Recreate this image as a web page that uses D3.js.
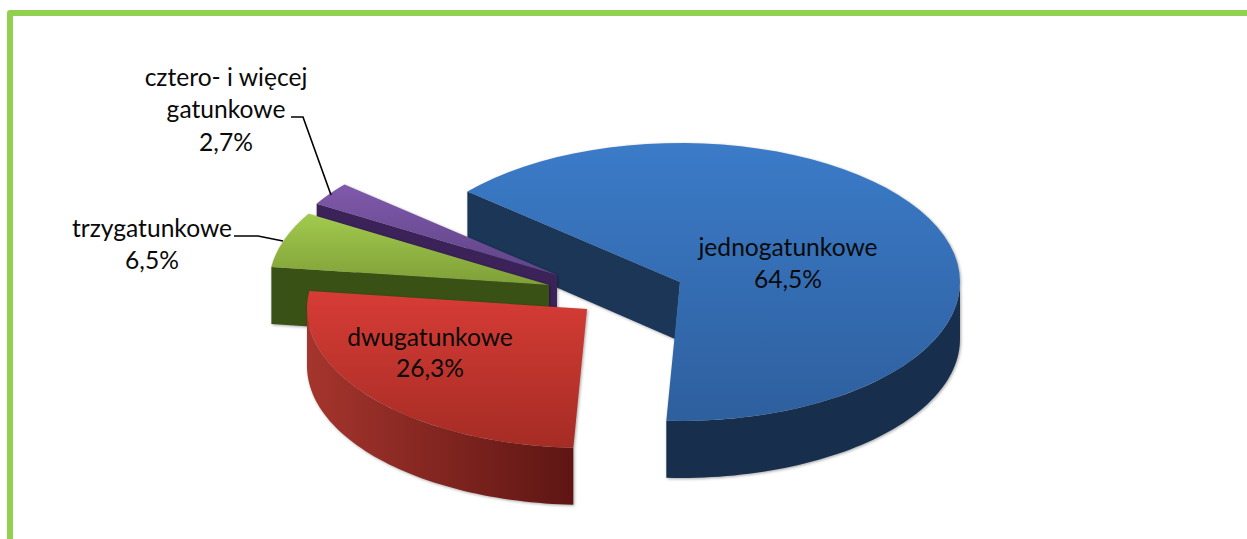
<!DOCTYPE html>
<html><head><meta charset="utf-8">
<script src="https://cdn.jsdelivr.net/npm/d3@7/dist/d3.min.js"></script>
<style>html,body{margin:0;padding:0;background:#fff;overflow:hidden}svg{display:block}text{font-family:Lato,"Open Sans",sans-serif;font-size:24.6px;fill:#0a0a0a;text-anchor:middle}</style>
</head><body><svg id="c" width="1247" height="539"></svg>
<script>
// data
const categories = ["jednogatunkowe","dwugatunkowe","trzygatunkowe","cztero- i więcej gatunkowe"];
const values = [64.5,26.3,6.5,2.7];
const valueLabels = ["64,5%","26,3%","6,5%","2,7%"];

// layout and styles (separate from data)
const W = 1247, H = 539;
const rx = 280, ry = 139, depth = 57;
const startDeg = -49.4;
const apexX = [680,587,549,557];
const apexY = [282,309,285,275];
const apexLean = [-5,0,0,0];
const drawOrder = [0,3,2,1];
const topColors = [["#3b7bc8","#2e5f9e"],["#d73c36","#a52c24"],["#a2ca4e","#7f9f38"],["#8059ab","#5f4487"]];
const wallColors = [["#1c3657","#172e4c"],["#a5352d","#5a1412"],["#3a5115","#33490f"],["#3b2259","#2d1a48"]];
const labelLines = [["jednogatunkowe","64,5%"],["dwugatunkowe","26,3%"],["trzygatunkowe","6,5%"],["cztero- i więcej","gatunkowe","2,7%"]];
const labelX = [788,430,152,226];
const labelY = [[256,288],[346,377],[237,269],[86,118,151]];
const leaders = [[[291,117],[303,117],[331,195]],[[234,236],[258,236],[283,241]]];

const svg = d3.select("#c");
const defs = svg.append("defs");
const pie = d3.pie().sort(null).value(d=>d)
  .startAngle(startDeg*Math.PI/180).endAngle(startDeg*Math.PI/180+2*Math.PI);
const arcs = pie(values);
const line = d3.line();
const sx = d3.scaleLinear().domain([-1,1]).range([-rx,rx]);
const sy = d3.scaleLinear().domain([-1,1]).range([-ry,ry]);

// outer border
svg.append("path").attr("d",`M10,${H+5}V13H${W+5}`).attr("fill","none")
  .attr("stroke","#92d050").attr("stroke-width",6).attr("stroke-linejoin","round");

const pt = (i,a)=>[apexX[i]+sx(Math.sin(a)), apexY[i]-sy(Math.cos(a))];
const samples = (a0,a1)=>d3.range(0,61).map(k=>a0+(a1-a0)*k/60);

// gradients
arcs.forEach((d,i)=>{
  const tg = defs.append("linearGradient").attr("id","t"+i).attr("x1",0).attr("x2",0).attr("y1",0).attr("y2",1);
  tg.append("stop").attr("offset",0).attr("stop-color",topColors[i][0]);
  tg.append("stop").attr("offset",1).attr("stop-color",topColors[i][1]);
  const wg = defs.append("linearGradient").attr("id","w"+i).attr("gradientUnits","userSpaceOnUse")
    .attr("x1",apexX[i]-rx).attr("x2",apexX[i]).attr("y1",0).attr("y2",0);
  wg.append("stop").attr("offset",0).attr("stop-color",wallColors[i][0]);
  wg.append("stop").attr("offset",1).attr("stop-color",wallColors[i][1]);
});

const layer = svg.append("g");
drawOrder.forEach(i=>{
  const d = arcs[i];
  const g = layer.append("g").style("filter","drop-shadow(1px 1.5px 1.5px rgba(0,0,0,.35))");
  const apex=[apexX[i],apexY[i]];
  const a0=d.startAngle, a1=d.endAngle;
  // a radial wall shows when its outward normal points down the screen
  const wallVisible=(a,side)=>{
    const nx=ry*Math.cos(a), ny=rx*Math.sin(a);
    return side*ny/Math.hypot(nx,ny)>0.2;
  };
  [[a1,1],[a0,-1]].forEach(([a,side])=>{
    if(!wallVisible(a,side)) return;
    const p=pt(i,a);
    g.append("path").attr("fill",wallColors[i][0])
      .attr("d",line([apex,p,[p[0],p[1]+depth],[apex[0]+apexLean[i],apex[1]+depth]])+"Z");
  });
  // rim: the part of the outer edge facing the viewer (90°..270°)
  [Math.PI/2,Math.PI/2+2*Math.PI].forEach(rs=>{
    const lo=Math.max(a0,rs), hi=Math.min(a1,rs+Math.PI);
    if(hi<=lo) return;
    const up=samples(lo,hi).map(a=>pt(i,a));
    const dn=up.slice().reverse().map(p=>[p[0],p[1]+depth]);
    g.append("path").attr("fill",`url(#w${i})`).attr("d",line(up.concat(dn))+"Z");
  });
  g.append("path").attr("fill",`url(#t${i})`)
    .attr("d",line([apex].concat(samples(a0,a1).map(a=>pt(i,a))))+"Z");
});

// leader lines
leaders.forEach(l=>svg.append("path").attr("d",line(l)).attr("fill","none").attr("stroke","#000").attr("stroke-width",1.6));

// labels
labelLines.forEach((ls,i)=>ls.forEach((t,k)=>svg.append("text").attr("x",labelX[i]).attr("y",labelY[i][k]).text(t)));
</script></body></html>
